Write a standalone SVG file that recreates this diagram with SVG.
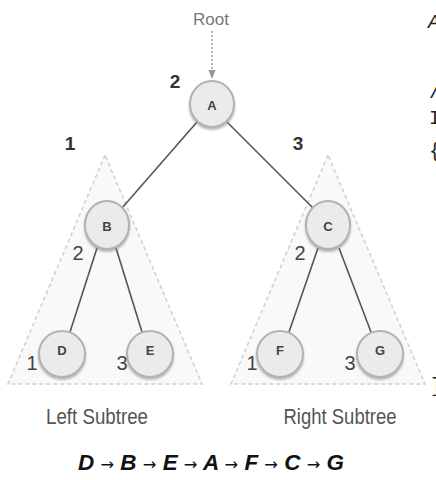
<svg xmlns="http://www.w3.org/2000/svg" width="436" height="480" viewBox="0 0 436 480">
  <style>
    .tri { fill: #f9f9f9; stroke: #cfcfcf; stroke-width: 1.5; stroke-dasharray: 4 3; }
    .edge { stroke: #555; stroke-width: 1.6; fill: none; }
    .node ellipse { fill: #ebebeb; stroke: #b3b3b3; stroke-width: 2; filter: url(#shadow); }
    .node text { font-family: "Liberation Sans", Arial, sans-serif; font-weight: bold; font-size: 13px; fill: #444; text-anchor: middle; }
    .order { font-family: "Liberation Sans", Arial, sans-serif; font-weight: bold; font-size: 19px; fill: #333; text-anchor: middle; }
    .step { font-family: "Liberation Sans", Arial, sans-serif; font-size: 20px; fill: #444; text-anchor: middle; }
    .caption { font-family: "Liberation Sans", Arial, sans-serif; font-size: 22px; fill: #555; text-anchor: middle; }
    .seq { font-family: "Liberation Sans", Arial, sans-serif; font-size: 22px; font-weight: bold; font-style: italic; fill: #111; text-anchor: middle; }
    .arrow { font-family: "DejaVu Sans", sans-serif; font-size: 16px; font-weight: normal; font-style: normal; }
    .code { font-family: "Liberation Mono", "Courier New", monospace; font-size: 20px; fill: #222; }
  </style>
  <defs>
    <filter id="shadow" x="-30%" y="-30%" width="160%" height="170%">
      <feDropShadow dx="0" dy="2" stdDeviation="1.2" flood-color="#888" flood-opacity="0.6"/>
    </filter>
    <marker id="tip" viewBox="0 0 10 10" refX="9" refY="5" markerWidth="6" markerHeight="6" orient="auto">
      <path d="M0,1 L10,5 L0,9 z" fill="#999"/>
    </marker>
  </defs>

  <rect width="436" height="480" fill="#ffffff"/>

  <!-- subtree outlines -->
  <g id="subtrees">
    <polygon class="tri" points="105,155 8,384 202,384"/>
    <polygon class="tri" points="328,155 231,384 425,384"/>
  </g>

  <!-- root pointer -->
  <g id="root-label">
    <text x="211" y="25" font-family="Liberation Sans, Arial, sans-serif" font-size="17" fill="#777" text-anchor="middle">Root</text>
    <line x1="212" y1="31" x2="212" y2="78" stroke="#999" stroke-width="1.5" stroke-dasharray="2 2" marker-end="url(#tip)"/>
  </g>

  <!-- connectors -->
  <g id="connectors">
    <line class="edge" x1="197" y1="122" x2="122" y2="208"/>
    <line class="edge" x1="227" y1="122" x2="313" y2="208"/>
    <line class="edge" x1="97" y1="248" x2="70" y2="332"/>
    <line class="edge" x1="116" y1="248" x2="142" y2="332"/>
    <line class="edge" x1="318" y1="248" x2="289" y2="332"/>
    <line class="edge" x1="339" y1="248" x2="371" y2="332"/>
  </g>

  <!-- nodes -->
  <g id="node-A" class="node"><ellipse cx="212" cy="104" rx="22" ry="23"/><text x="212" y="110">A</text></g>
  <g id="node-B" class="node"><ellipse cx="107" cy="225" rx="22" ry="24"/><text x="107" y="231">B</text></g>
  <g id="node-C" class="node"><ellipse cx="328" cy="225" rx="22" ry="24"/><text x="328" y="231">C</text></g>
  <g id="node-D" class="node"><ellipse cx="62" cy="354" rx="23" ry="23"/><text x="62" y="355">D</text></g>
  <g id="node-E" class="node"><ellipse cx="150" cy="354" rx="23" ry="23"/><text x="150" y="355">E</text></g>
  <g id="node-F" class="node"><ellipse cx="280" cy="354" rx="23" ry="23"/><text x="280" y="355">F</text></g>
  <g id="node-G" class="node"><ellipse cx="380" cy="354" rx="23" ry="23"/><text x="380" y="355">G</text></g>

  <!-- visit order numbers -->
  <g id="order-labels">
    <text class="order" x="175" y="88">2</text>
    <text class="order" x="70" y="150">1</text>
    <text class="order" x="298" y="150">3</text>
  </g>
  <g id="step-labels">
    <text class="step" x="78" y="260">2</text>
    <text class="step" x="300" y="260">2</text>
    <text class="step" x="32" y="370">1</text>
    <text class="step" x="122" y="370">3</text>
    <text class="step" x="252" y="370">1</text>
    <text class="step" x="350" y="370">3</text>
  </g>

  <!-- captions -->
  <text class="caption" x="97" y="424" textLength="102" lengthAdjust="spacingAndGlyphs">Left Subtree</text>
  <text class="caption" x="340" y="424" textLength="113" lengthAdjust="spacingAndGlyphs">Right Subtree</text>

  <!-- traversal sequence -->
  <text class="seq" x="211" y="470" textLength="266" lengthAdjust="spacingAndGlyphs">D <tspan class="arrow">→</tspan> B <tspan class="arrow">→</tspan> E <tspan class="arrow">→</tspan> A <tspan class="arrow">→</tspan> F <tspan class="arrow">→</tspan> C <tspan class="arrow">→</tspan> G</text>

  <!-- text clipped at the right edge -->
  <g id="edge-text" class="code">
    <text x="428" y="28" font-style="italic">A</text>
    <text x="429" y="98">/</text>
    <text x="429" y="124">I</text>
    <text x="429" y="157">{</text>
    <text x="430" y="392">]</text>
  </g>
</svg>
